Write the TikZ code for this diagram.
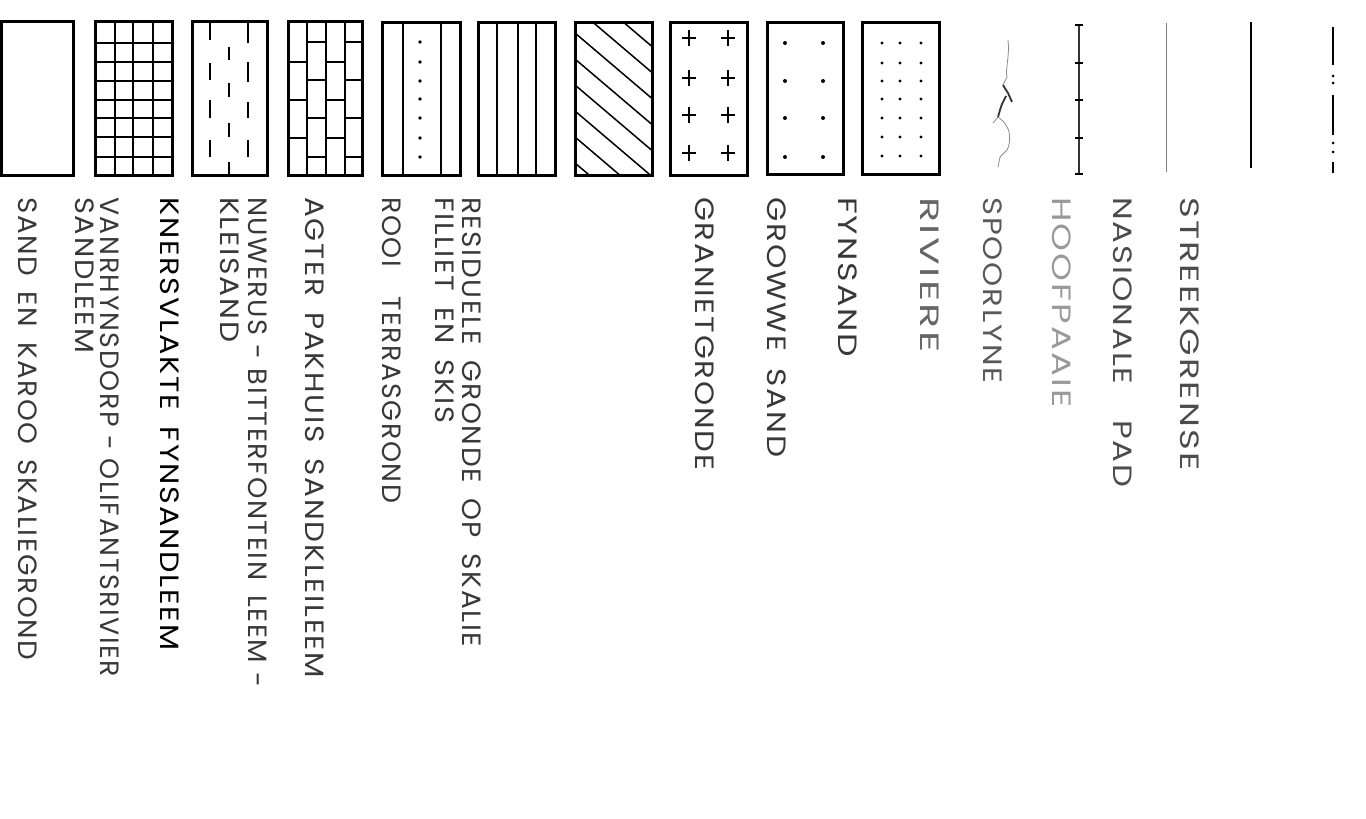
\documentclass[tikz,border=0pt]{standalone}
\usepackage{fontspec}
\usepackage{graphicx}
\setmainfont{Poppins}
\newfontfamily\lblfont{Poppins}[LetterSpace=6]
\newcommand\fitlbl[2]{\resizebox{#1pt}{\height}{#2}}
\newcommand\ws{\hspace{0.55em}}
\begin{document}
\begin{tikzpicture}[x=1pt,y=-1pt]
\tikzset{
  legbox/.style={line width=3pt, line join=miter},
  pat/.style={line width=1.8pt},
  dsh/.style={line width=2.6pt},
  lbl/.style={rotate=-90, anchor=base west, inner sep=0pt, font=\lblfont\fontsize{26.5}{26.5}\selectfont, text=black!78},
  dotf/.style={fill=black}
}
\useasboundingbox (0,0) rectangle (1366,819);
\fill[white] (0,0) rectangle (1366,819);

% --- Box 1: sand en karoo skaliegrond
\draw[legbox] (1.5,21) rectangle (73,175);

% --- Box 2: grid
\draw[pat] (115,21) -- (115,175) (133,21) -- (133,175) (153,21) -- (153,175);
\foreach \yy in {43,62,81,100,118,137,157} \draw[pat] (95,\yy) -- (172,\yy);
\draw[legbox] (95,21) rectangle (172,175);

% --- Box 3: dashes
\foreach \a/\b in {23/40,63/80,100/118,140/157} \draw[dsh] (210,\a) -- (210,\b);
\foreach \a/\b in {47/60,83/97,123/137,162/175} \draw[dsh] (229,\a) -- (229,\b);
\foreach \a/\b in {23/43,62/82,102/118,140/157} \draw[dsh] (248,\a) -- (248,\b);
\draw[legbox] (192,21) rectangle (267,175);

% --- Box 4: bricks
\draw[pat] (307,21) -- (307,175) (326,21) -- (326,175) (345,21) -- (345,175);
\foreach \yy in {62,100,138} {\draw[pat] (288,\yy) -- (307,\yy); \draw[pat] (326,\yy) -- (345,\yy);}
\foreach \yy in {42,80,118,157} {\draw[pat] (307,\yy) -- (326,\yy); \draw[pat] (345,\yy) -- (362,\yy);}
\draw[legbox] (288,21) rectangle (362,175);

% --- Box 5: agter pakhuis
\draw[pat] (403,22) -- (403,175) (441,22) -- (441,175);
\foreach \yy in {42,62,81,99,118,138,157} \fill (420,\yy) circle (1.8);
\draw[legbox] (382,22) rectangle (460,175);

% --- Box 6: rooi terrasgrond
\draw[pat] (497,22) -- (497,175) (518,22) -- (518,175) (536,22) -- (536,175);
\draw[legbox] (478,22) rectangle (555,175);

% --- Box 7: hatching
\begin{scope}
\clip (575,22) rectangle (652,175);
\foreach \yy in {-19,7,33,59,85,111,137,163} \draw[line width=1.5pt] (575,\yy) -- (652,\yy+65.5);
\end{scope}
\draw[legbox] (575,22) rectangle (652,175);

% --- Box 8: crosses
\foreach \xx in {689,728} \foreach \yy in {38,78,115,153}
  \draw[line width=2pt] (\xx-7,\yy) -- (\xx+7,\yy) (\xx,\yy-8) -- (\xx,\yy+8);
\draw[legbox] (670,22) rectangle (747,175);

% --- Box 9: growwe sand
\foreach \xx in {785,823} \foreach \yy in {43,81,118,157} \fill (\xx,\yy) circle (2);
\draw[legbox] (767,22) rectangle (843,174);

% --- Box 10: fynsand
\foreach \xx in {882,900,921} \foreach \yy in {43,63,81,99,118,137,156} \fill (\xx,\yy) circle (1.6);
\draw[legbox] (862,22) rectangle (939,174);

% --- River
\draw[black!45, line width=0.8pt] (1008,40) .. controls (1010,55) and (1005,70) .. (1007,77) -- (1003,85);
\draw[black!80, line width=1.8pt] (1003,85) -- (1006,90) -- (1008,93) -- (1012,102);
\draw[black!80, line width=1.8pt] (1006,96) -- (1002,104) -- (1000,110) -- (998,117);
\draw[black!45, line width=0.8pt] (998,117) -- (993,123);
\draw[black!45, line width=0.8pt] (998,117) -- (1004,122) -- (1007,127) .. controls (1011,133) and (1010,145) .. (1007,150) -- (1000,157) -- (998,167);

% --- Spoorlyne
\draw[black!80, line width=1.3pt] (1079,25) -- (1079,174);
\foreach \yy in {25,63,100,138,174} \draw[line width=2pt] (1075,\yy) -- (1083,\yy);

% --- Hoofpaaie
\draw[black!50, line width=0.9pt] (1166,23) -- (1166,172);

% --- Nasionale pad
\draw[line width=2.6pt] (1251,22) -- (1251,168);

% --- Streekgrense
\draw[line width=2.6pt] (1333,27) -- (1333,65) (1333,95) -- (1333,135) (1333,162) -- (1333,173);
\foreach \yy in {76,83,143,152} \fill (1333,\yy) circle (1.5);

% --- Labels
\node[lbl] (l1) at (18,197) {\fitlbl{463}{SAND\ws EN\ws KAROO\ws SKALIEGROND}};
\node[lbl] (l2a) at (100,197) {\fitlbl{480}{VANRHYNSDORP - OLIFANTSRIVIER}};
\node[lbl] (l2b) at (75,197) {\fitlbl{156}{SANDLEEM}};
\node[lbl, text=black] (l3) at (160,197) {\fitlbl{453}{KNERSVLAKTE\ws FYNSANDLEEM}};
\node[lbl] (l4a) at (248,197) {\fitlbl{490}{NUWERUS - BITTERFONTEIN\ws LEEM -}};
\node[lbl] (l4b) at (220,197) {\fitlbl{145}{KLEISAND}};
\node[lbl] (l5) at (305,197) {\fitlbl{481}{AGTER\ws PAKHUIS\ws SANDKLEILEEM}};
\node[lbl] (l6) at (382,197) {\fitlbl{306}{ROOI\ws\ws TERRASGROND}};
\node[lbl] (l7a) at (462,197) {\fitlbl{450}{RESIDUELE\ws GRONDE\ws OP\ws SKALIE}};
\node[lbl] (l7b) at (435,197) {\fitlbl{226}{FILLIET\ws EN\ws SKIS}};
\node[lbl] (l8) at (695,197) {\fitlbl{273}{GRANIETGRONDE}};
\node[lbl] (l9) at (767,197) {\fitlbl{260}{GROWWE\ws SAND}};
\node[lbl] (l10) at (838,197) {\fitlbl{160}{FYNSAND}};
\node[lbl, text=black!60] (l11) at (920,197) {\fitlbl{155}{RIVIERE}};
\node[lbl, text=black!65] (l12) at (983,197) {\fitlbl{186}{SPOORLYNE}};
\node[lbl, text=black!40] (l13) at (1052,197) {\fitlbl{210}{HOOFPAAIE}};
\node[lbl, text=black!70] (l14) at (1113,197) {\fitlbl{290}{NASIONALE\ws\ws PAD}};
\node[lbl, text=black!70] (l15) at (1180,197) {\fitlbl{273}{STREEKGRENSE}};
\end{tikzpicture}
\end{document}
